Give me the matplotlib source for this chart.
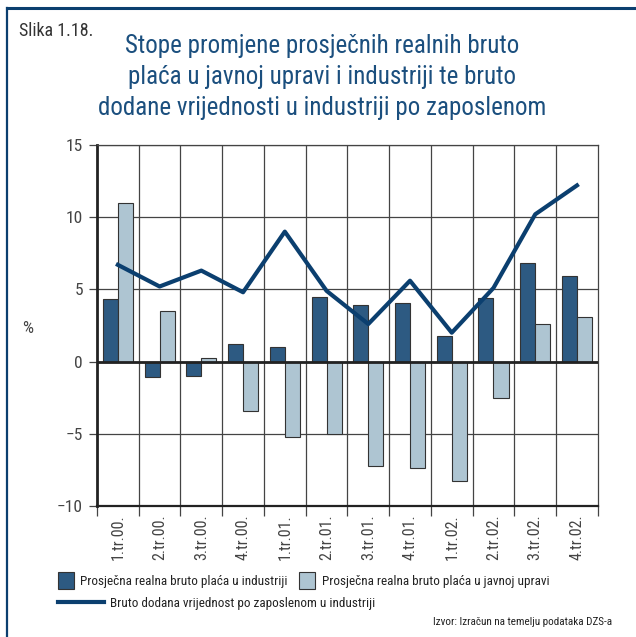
import matplotlib.pyplot as plt
import numpy as np
from matplotlib.lines import Line2D
from matplotlib.patches import Patch

plt.rcParams['font.family'] = ['Roboto Condensed', 'Liberation Sans Narrow', 'Roboto', 'DejaVu Sans']

kvartali = ['1.tr.00.', '2.tr.00.', '3.tr.00.', '4.tr.00.',
            '1.tr.01.', '2.tr.01.', '3.tr.01.', '4.tr.01.',
            '1.tr.02.', '2.tr.02.', '3.tr.02.', '4.tr.02.']
industrija = [4.3, -1.1, -1.0, 1.2, 1.0, 4.5, 3.9, 4.05, 1.75, 4.4, 6.8, 5.9]
javna_uprava = [11.0, 3.5, 0.25, -3.4, -5.2, -5.0, -7.2, -7.4, -8.3, -2.5, 2.6, 3.1]
dodana_vrijednost = [6.7, 5.2, 6.3, 4.8, 9.0, 4.9, 2.6, 5.6, 2.0, 5.1, 10.2, 12.2]

c_dark = '#2d5a82'
c_light = '#aec5d2'
c_line = '#0b3f6f'
c_title = '#1b4f7e'
c_text = '#444444'

fig = plt.figure(figsize=(6.36, 6.37), dpi=100)
ax = fig.add_axes([0.1525, 0.2057, 0.7875, 0.5667])

x = np.arange(len(kvartali))
w = 0.36
ax.bar(x - w / 2, industrija, w, color=c_dark, edgecolor='#333333', linewidth=0.8, zorder=3)
ax.bar(x + w / 2, javna_uprava, w, color=c_light, edgecolor='#333333', linewidth=0.8, zorder=3)
ax.plot(x, dodana_vrijednost, color=c_line, linewidth=3, zorder=4)

ax.set_xlim(-0.5, len(kvartali) - 0.5)
ax.set_ylim(-10, 15)
ax.set_yticks([-10, -5, 0, 5, 10, 15])
ax.set_yticklabels(['\u221210', '\u22125', '0', '5', '10', '15'])
ax.yaxis.grid(True, color='#444444', linewidth=0.9, zorder=1)
for b in np.arange(0.5, len(kvartali) - 0.5, 1):
    ax.axvline(b, color='#444444', linewidth=0.9, zorder=1)
ax.axhline(0, color='#222222', linewidth=2, zorder=5)

ax.set_xticks(np.arange(-0.5, len(kvartali), 1))
ax.set_xticklabels([])
ax.set_xticks(x, minor=True)
ax.set_xticklabels(kvartali, minor=True, rotation=90, va='top')
ax.tick_params(axis='x', which='minor', length=0, pad=6, labelsize=11.5, labelcolor=c_text)
ax.tick_params(axis='x', which='major', length=7, width=0.9, color='#444444', direction='out')
ax.tick_params(axis='y', length=6, width=0.9, color='#444444', labelsize=12.5, labelcolor=c_text, pad=4)

for s in ['top', 'right', 'bottom']:
    ax.spines[s].set_color('#444444')
    ax.spines[s].set_linewidth(0.9)
ax.spines['left'].set_linewidth(2)
ax.spines['left'].set_color('#222222')
ax.spines['bottom'].set_linewidth(1.6)
ax.spines['bottom'].set_color('#222222')

fig.text(0.044, 0.485, '%', fontsize=12.5, color=c_text, ha='center', va='center')

fig.text(0.03, 0.952, 'Slika 1.18.', fontsize=13, color='#333333', ha='left', va='center')
fig.text(0.507, 0.879,
         'Stope promjene prosječnih realnih bruto\n'
         'plaća u javnoj upravi i industriji te bruto\n'
         'dodane vrijednosti u industriji po zaposlenom',
         fontsize=18, color=c_title, ha='center', va='center', linespacing=1.36)

# okvir slike
fig.add_artist(Line2D([0.011, 1.0], [0.988, 0.988], color='#0b3f6f', linewidth=2.2))
fig.add_artist(Line2D([0.011, 0.011], [0.0, 0.988], color='#0b3f6f', linewidth=1.6))

h1 = [Patch(facecolor=c_dark, edgecolor='#333333', linewidth=0.8),
      Patch(facecolor=c_light, edgecolor='#333333', linewidth=0.8)]
fig.legend(h1, ['Prosječna realna bruto plaća u industriji',
                'Prosječna realna bruto plaća u javnoj upravi'],
           loc='center left', bbox_to_anchor=(0.072, 0.088), ncol=2, frameon=False,
           fontsize=9.5, handlelength=1.2, handleheight=1.6, handletextpad=0.5,
           columnspacing=0.9, labelcolor='#222222')
fig.legend([Line2D([], [], color=c_line, linewidth=3)],
           ['Bruto dodana vrijednost po zaposlenom u industriji'],
           loc='center left', bbox_to_anchor=(0.072, 0.053), frameon=False,
           fontsize=9.5, handlelength=3.5, handletextpad=0.5, labelcolor='#222222')

fig.text(0.962, 0.023, 'Izvor: Izračun na temelju podataka DZS-a', fontsize=8,
         color='#222222', ha='right', va='center')

fig.savefig('out.png', dpi=100)
